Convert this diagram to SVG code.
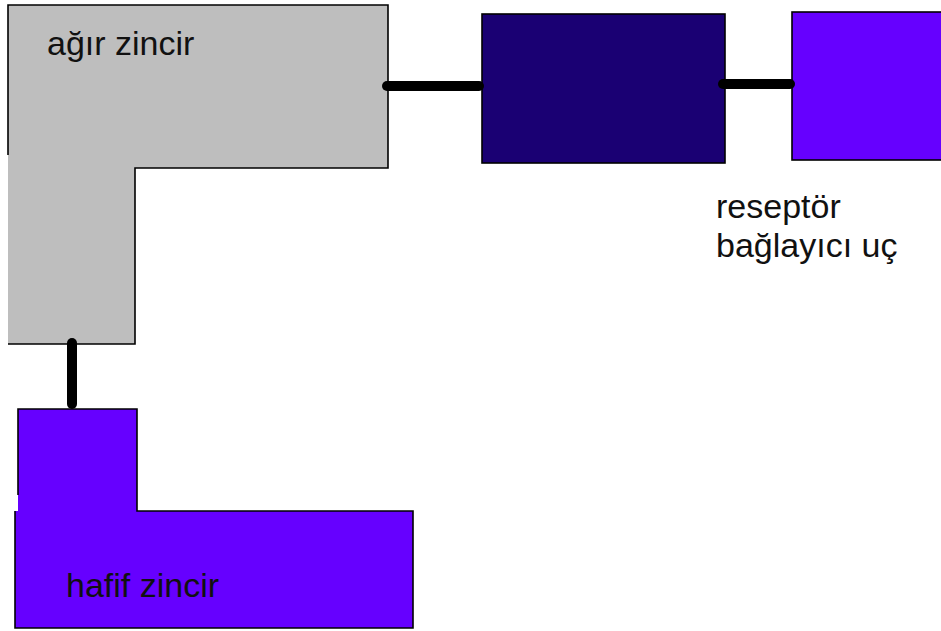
<svg xmlns="http://www.w3.org/2000/svg" width="941" height="631" viewBox="0 0 941 631">
<style>
.edge{stroke:#000;stroke-width:1.6;fill:none;stroke-linejoin:miter}
.conn{stroke:#000;stroke-width:10;stroke-linecap:round;fill:none}
.lbl{font-family:"Liberation Sans",Arial,sans-serif;font-size:34px;fill:#111}
</style>
<rect width="941" height="631" fill="#fff"/>
<g id="agir-zincir">
<path d="M8,5 H388 V168 H135 V344 H8 Z" fill="#bebebe"/>
<path class="edge" d="M8,155 V5 H388 V168 H135 V344 H8"/>
<text class="lbl" x="47" y="55">ağır zincir</text>
</g>
<g id="hafif-zincir">
<path d="M18,409 H137 V511 H413 V628 H15 V511 H18 Z" fill="#6600ff"/>
<path class="edge" d="M18,495 V409 H137 V511 H413 V628 H15 V511"/>
<text class="lbl" x="66" y="597">hafif zincir</text>
</g>
<g id="orta-blok">
<rect x="482" y="14" width="243" height="149" fill="#1a0073" stroke="#000" stroke-width="1.6"/>
</g>
<g id="reseptor-bloku">
<rect x="792" y="12" width="152" height="148" fill="#6600ff" stroke="#000" stroke-width="1.6"/>
</g>
<g id="reseptor-etiket">
<text class="lbl" x="716" y="218">reseptör</text>
<text class="lbl" x="716" y="257">bağlayıcı uç</text>
</g>
<g id="connectors">
<line class="conn" x1="387" y1="86" x2="479" y2="86"/>
<line class="conn" x1="723" y1="84" x2="790" y2="84"/>
<line class="conn" x1="72" y1="343" x2="72" y2="404"/>
</g>
</svg>
